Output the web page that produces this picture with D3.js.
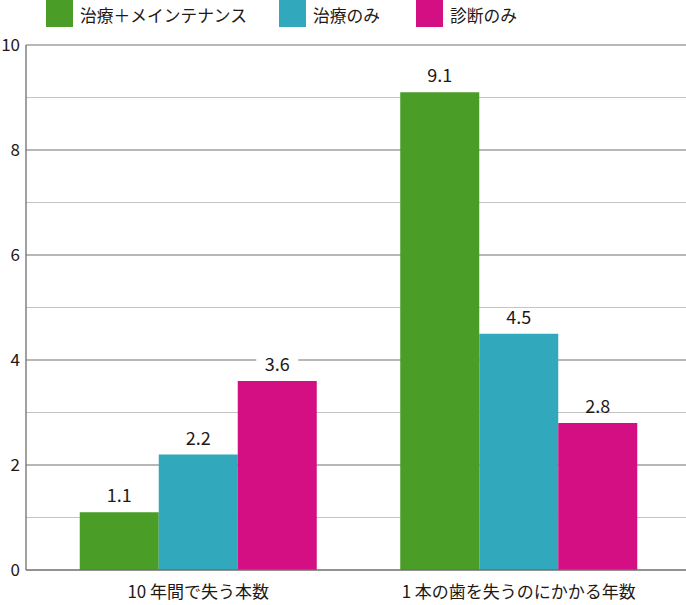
<!DOCTYPE html>
<html><head><meta charset="utf-8">
<script src="https://cdn.jsdelivr.net/npm/d3@7"></script>
<style>body{margin:0;background:#fff}svg{display:block}</style>
</head><body>
<script>
const categories = ["10 年間で失う本数", "1 本の歯を失うのにかかる年数"];
const seriesNames = ["治療＋メインテナンス", "治療のみ", "診断のみ"];
const seriesColors = ["#4a9d27", "#31a8bb", "#d40f84"];
const valuesMaint = [1.1, 9.1];
const valuesTreat = [2.2, 4.5];
const valuesDiag = [3.6, 2.8];
const yTicks = [0, 2, 4, 6, 8, 10];
const gridMinor = [1, 3, 5, 7, 9];

(function () {
const series = [valuesMaint, valuesTreat, valuesDiag];
const W = 686, H = 605;
const font = "'Noto Sans CJK JP', 'Noto Sans', sans-serif";
const svg = d3.select("body").append("svg").attr("width", W).attr("height", H);

const mL = 26, mR = 686, mT = 45, mB = 570;
const y = d3.scaleLinear().domain([0, 10]).range([mB, mT]);
const x0 = d3.scaleBand().domain(categories).range([38, 679]).paddingInner(0).paddingOuter(0);
const x1 = d3.scaleBand().domain(d3.range(3)).range([0, 237]);
const groupOffset = (x0.bandwidth() - 237) / 2;

svg.selectAll("line.minor").data(gridMinor).join("line").attr("class", "minor")
  .attr("x1", mL).attr("x2", mR).attr("y1", d => y(d)).attr("y2", d => y(d))
  .attr("stroke", "#c4c4c4").attr("stroke-width", 1.2);
svg.selectAll("line.major").data(yTicks.filter(d => d > 0)).join("line").attr("class", "major")
  .attr("x1", mL).attr("x2", mR).attr("y1", d => y(d)).attr("y2", d => y(d))
  .attr("stroke", "#707070").attr("stroke-width", 1.2);

const groups = svg.selectAll("g.grp").data(categories).join("g").attr("class", "grp")
  .attr("transform", c => `translate(${x0(c) + groupOffset},0)`);
groups.each(function (c, ci) {
  const g = d3.select(this);
  series.forEach((vals, si) => {
    const v = vals[ci];
    g.append("rect").attr("x", x1(si)).attr("width", x1.bandwidth())
      .attr("y", y(v)).attr("height", y(0) - y(v)).attr("fill", seriesColors[si]);
    const cx = x1(si) + x1.bandwidth() / 2;
    g.append("rect").attr("x", cx - 21).attr("y", y(v) - 24).attr("width", 42).attr("height", 12).attr("fill", "#fff");
    g.append("text").attr("x", cx).attr("y", y(v) - 10).attr("text-anchor", "middle")
      .attr("font-family", font).attr("font-size", 18).attr("fill", "#231815").text(v.toFixed(1));
  });
});

svg.append("line").attr("x1", mL).attr("x2", mL).attr("y1", mT).attr("y2", mB)
  .attr("stroke", "#6e6e6e").attr("stroke-width", 1.3);
svg.append("line").attr("x1", mL).attr("x2", mR).attr("y1", mB).attr("y2", mB)
  .attr("stroke", "#6e6e6e").attr("stroke-width", 1.5);

svg.selectAll("text.yt").data(yTicks).join("text").attr("class", "yt")
  .attr("x", 20).attr("y", d => y(d) + 6).attr("text-anchor", "end")
  .attr("font-family", font).attr("font-size", 17).attr("fill", "#231815").text(d => d);

svg.selectAll("text.cat").data(categories).join("text").attr("class", "cat")
  .attr("x", c => x0(c) + x0.bandwidth() / 2).attr("y", 598).attr("text-anchor", "middle")
  .attr("font-family", font).attr("font-size", 17).attr("fill", "#231815").text(c => c);

const legX = [46, 279, 416];
const legW = [167, 67, 67];
seriesNames.forEach((n, i) => {
  svg.append("rect").attr("x", legX[i]).attr("y", 0).attr("width", 27).attr("height", 27).attr("fill", seriesColors[i]);
  svg.append("text").attr("x", legX[i] + 34).attr("y", 22)
    .attr("font-family", font).attr("font-size", 17).attr("fill", "#231815")
    .attr("textLength", legW[i]).attr("lengthAdjust", "spacingAndGlyphs").text(n);
});
})();
</script>
</body></html>
